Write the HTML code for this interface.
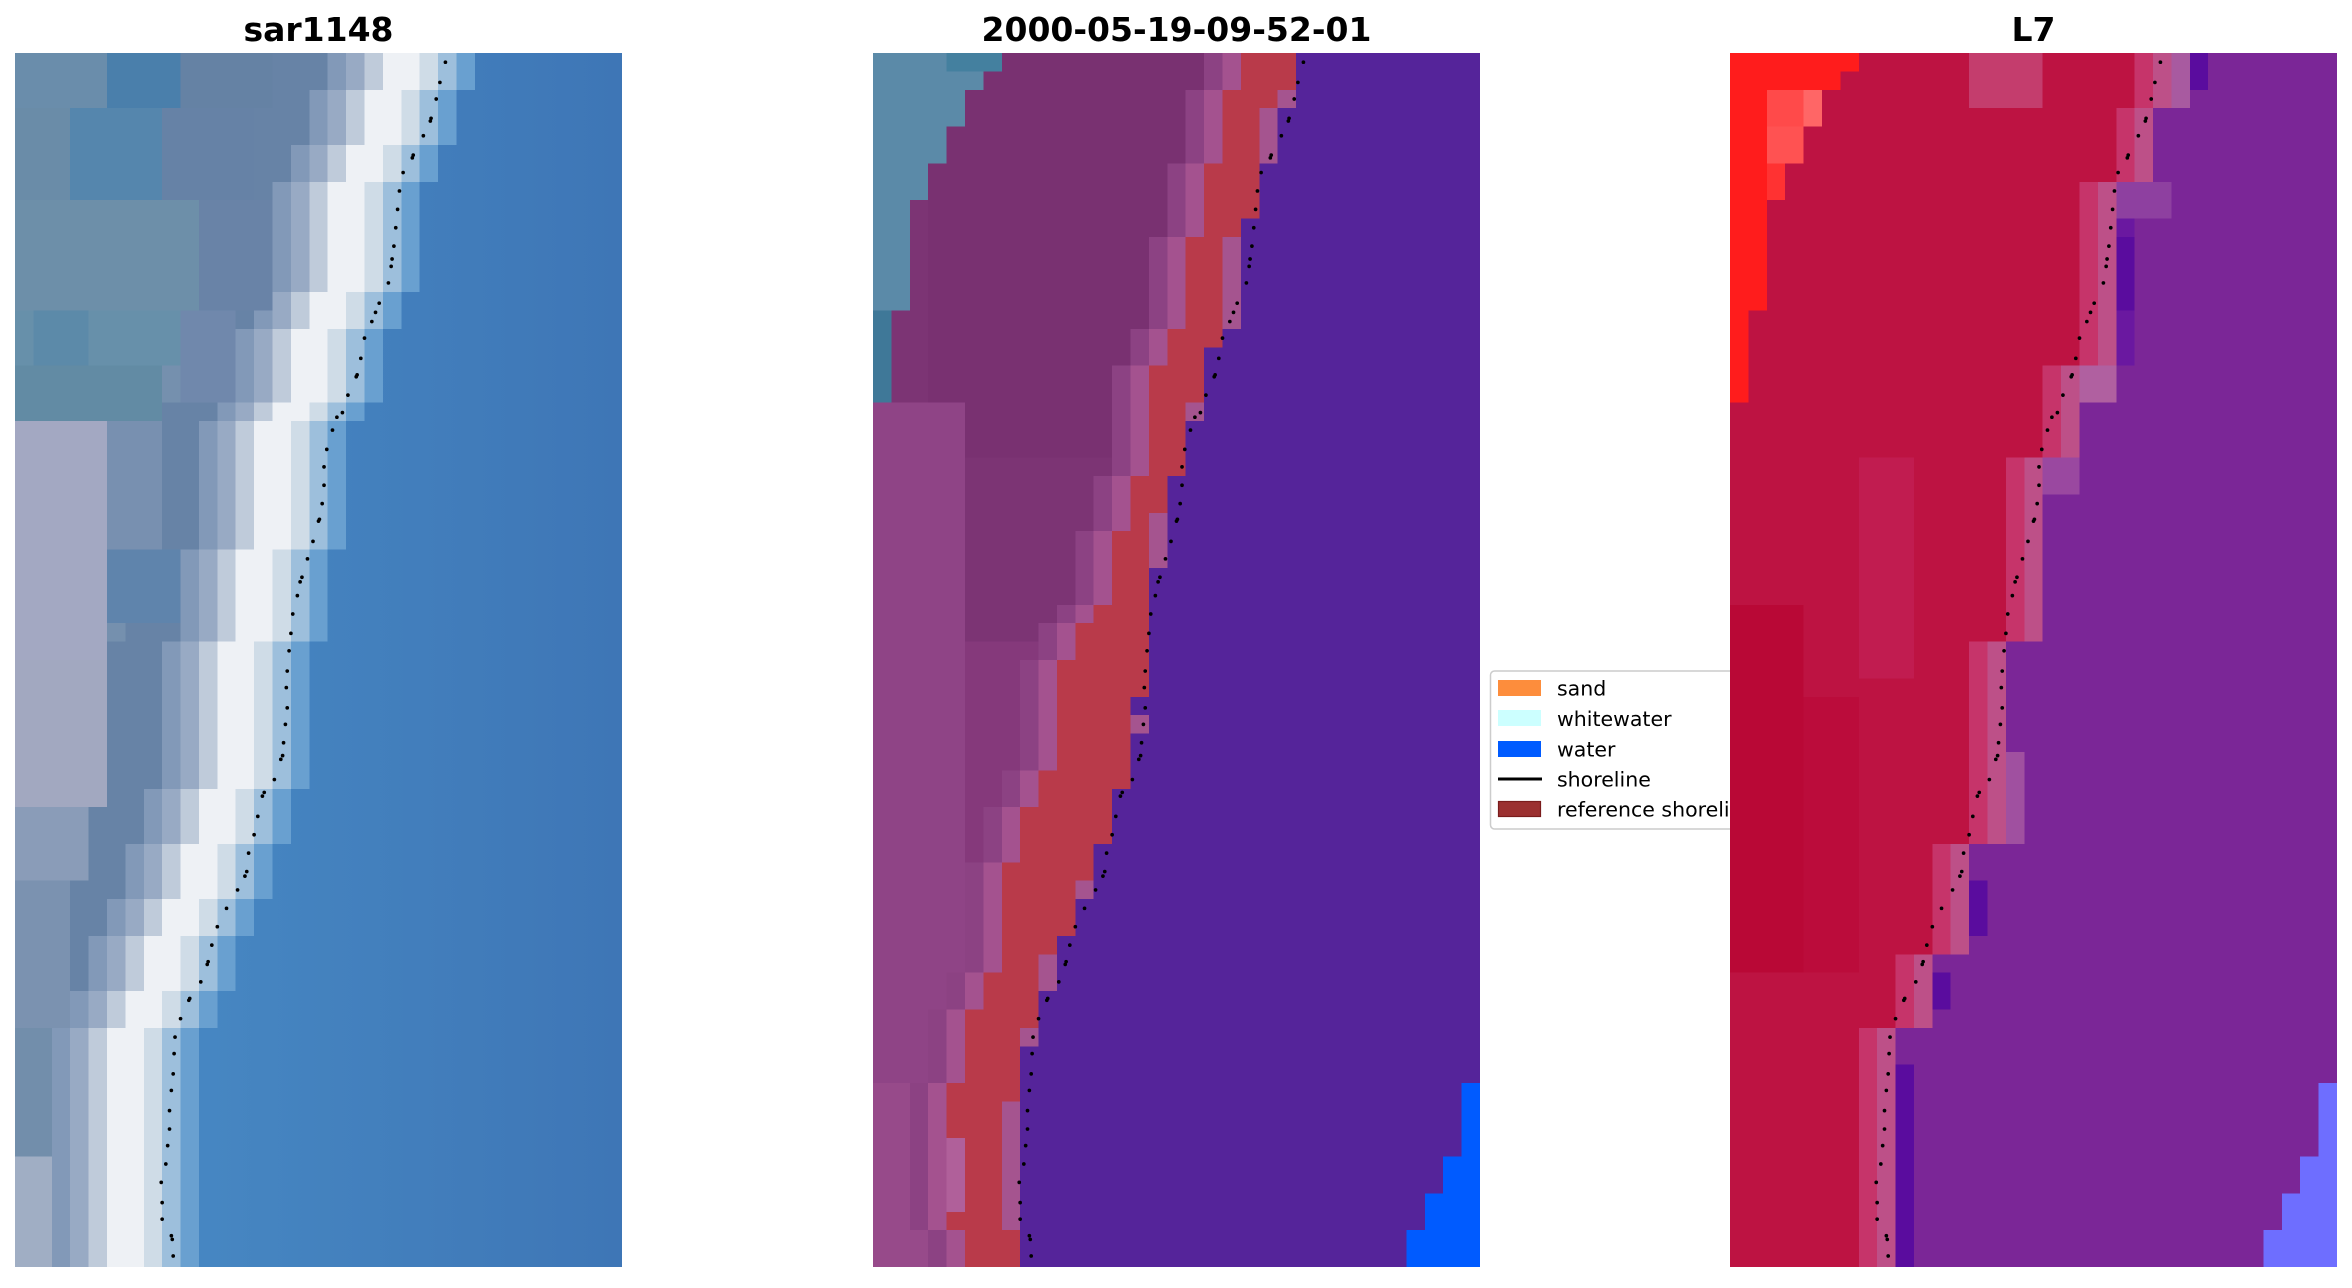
<!DOCTYPE html>
<html><head><meta charset="utf-8"><style>
html,body{margin:0;padding:0;background:#fff;}
body{width:2352px;height:1283px;overflow:hidden;}
svg text{font-family:"DejaVu Sans","Liberation Sans",sans-serif;}
</style></head><body>
<svg xmlns="http://www.w3.org/2000/svg" width="2352" height="1283" viewBox="0 0 2352 1283">
<defs>
<path id="s1" d="M23,0 V2 H22 V5 H21 V7 H20 V13 H19 V15 H18 V19 H17 V20 H16 V27 H15 V32 H14 V40 H13 V43 H12 V46 H11 V48 H10 V51 H9 V53 H8 V66 H45 V0 Z"/>
<path id="sB" d="M23,0 V3 H22 V6 H21 V9 H20 V14 H19 V16 H18 V20 H17 V23 H16 V28 H15 V35 H14 V40 H13 V43 H12 V45 H11 V48 H10 V51 H9 V54 H8 V66 H45 V0 Z"/>
<path id="sL" d="M20,0 V2 H19 V6 H18 V10 H17 V15 H16 V17 H15 V23 H14 V26 H13 V30 H12 V31 H11 V33 H10 V39 H9 V41 H8 V44 H7 V50 H6 V52 H5 V56 H4 V64 H5 V66 H45 V0 Z"/>
<path id="sP" d="M24,0 V3 H23 V7 H21 V17 H19 V22 H17 V32 H15 V43 H13 V49 H11 V53 H9 V66 H45 V0 Z"/>
<path id="tl" d="M0,0 H7 V1 H6 V2 H5 V4 H4 V6 H3 V8 H2 V14 H1 V19 H0 Z"/>
<path id="br" d="M32,56 H33 V66 H29 V64 H30 V62 H31 V60 H32 Z"/>
<linearGradient id="g1" gradientUnits="userSpaceOnUse" x1="6" y1="0" x2="31" y2="0">
<stop offset="0" stop-color="#4788c3"/><stop offset="1" stop-color="#3e76b6"/>
</linearGradient>
<g id="dots" fill="#000">
<circle cx="23.4" cy="0.5" r=".1"/><circle cx="23.1" cy="1.6" r=".1"/><circle cx="22.9" cy="2.5" r=".1"/><circle cx="22.62" cy="3.55" r=".1"/><circle cx="22.58" cy="3.7" r=".1"/><circle cx="22.2" cy="4.5" r=".1"/><circle cx="21.65" cy="5.55" r=".1"/><circle cx="21.6" cy="5.7" r=".1"/><circle cx="21.1" cy="6.5" r=".1"/><circle cx="20.9" cy="7.5" r=".1"/><circle cx="20.8" cy="8.5" r=".1"/><circle cx="20.7" cy="9.5" r=".1"/><circle cx="20.6" cy="10.5" r=".1"/><circle cx="20.5" cy="11.2" r=".1"/><circle cx="20.45" cy="11.6" r=".1"/><circle cx="20.3" cy="12.5" r=".1"/><circle cx="19.8" cy="13.6" r=".1"/><circle cx="19.6" cy="14.1" r=".1"/><circle cx="19.4" cy="14.6" r=".1"/><circle cx="19.0" cy="15.5" r=".1"/><circle cx="18.8" cy="16.6" r=".1"/><circle cx="18.6" cy="17.5" r=".1"/><circle cx="18.55" cy="17.6" r=".1"/><circle cx="18.1" cy="18.6" r=".1"/><circle cx="17.8" cy="19.55" r=".1"/><circle cx="17.5" cy="19.8" r=".1"/><circle cx="17.26" cy="20.5" r=".1"/><circle cx="16.95" cy="21.55" r=".1"/><circle cx="16.8" cy="22.5" r=".1"/><circle cx="16.8" cy="23.5" r=".1"/><circle cx="16.7" cy="24.5" r=".1"/><circle cx="16.55" cy="25.35" r=".1"/><circle cx="16.5" cy="25.45" r=".1"/><circle cx="16.2" cy="26.55" r=".1"/><circle cx="15.9" cy="27.5" r=".1"/><circle cx="15.6" cy="28.5" r=".1"/><circle cx="15.5" cy="28.75" r=".1"/><circle cx="15.35" cy="29.5" r=".1"/><circle cx="15.1" cy="30.5" r=".1"/><circle cx="15.0" cy="31.55" r=".1"/><circle cx="14.9" cy="32.5" r=".1"/><circle cx="14.8" cy="33.6" r=".1"/><circle cx="14.75" cy="34.5" r=".1"/><circle cx="14.8" cy="35.6" r=".1"/><circle cx="14.7" cy="36.5" r=".1"/><circle cx="14.6" cy="37.5" r=".1"/><circle cx="14.55" cy="38.2" r=".1"/><circle cx="14.45" cy="38.4" r=".1"/><circle cx="14.1" cy="39.5" r=".1"/><circle cx="13.55" cy="40.2" r=".1"/><circle cx="13.45" cy="40.4" r=".1"/><circle cx="13.2" cy="41.5" r=".1"/><circle cx="13.0" cy="42.5" r=".1"/><circle cx="12.7" cy="43.5" r=".1"/><circle cx="12.6" cy="44.5" r=".1"/><circle cx="12.5" cy="44.75" r=".1"/><circle cx="12.1" cy="45.5" r=".1"/><circle cx="11.5" cy="46.5" r=".1"/><circle cx="11.0" cy="47.5" r=".1"/><circle cx="10.7" cy="48.5" r=".1"/><circle cx="10.5" cy="49.4" r=".1"/><circle cx="10.45" cy="49.55" r=".1"/><circle cx="10.1" cy="50.5" r=".1"/><circle cx="9.5" cy="51.4" r=".1"/><circle cx="9.45" cy="51.5" r=".1"/><circle cx="9.0" cy="52.5" r=".1"/><circle cx="8.7" cy="53.5" r=".1"/><circle cx="8.65" cy="54.4" r=".1"/><circle cx="8.6" cy="55.5" r=".1"/><circle cx="8.5" cy="56.4" r=".1"/><circle cx="8.4" cy="57.5" r=".1"/><circle cx="8.4" cy="58.5" r=".1"/><circle cx="8.3" cy="59.4" r=".1"/><circle cx="8.2" cy="60.4" r=".1"/><circle cx="7.95" cy="61.4" r=".1"/><circle cx="8.0" cy="62.5" r=".1"/><circle cx="8.0" cy="63.4" r=".1"/><circle cx="8.5" cy="64.3" r=".1"/><circle cx="8.55" cy="64.5" r=".1"/><circle cx="8.6" cy="65.4" r=".1"/>
</g>
</defs>

<rect width="2352" height="1283" fill="#fff"/>

<!-- Titles -->
<text x="318.5" y="41" text-anchor="middle" font-size="33" font-weight="bold" fill="#000">sar1148</text>
<text x="1176.5" y="41" text-anchor="middle" font-size="33" font-weight="bold" fill="#000">2000-05-19-09-52-01</text>
<text x="2033.5" y="41" text-anchor="middle" font-size="33" font-weight="bold" fill="#000">L7</text>

<!-- Panel 1 -->
<svg x="15" y="53" width="607" height="1214" viewBox="0 0 33 66" preserveAspectRatio="none" shape-rendering="crispEdges">
<rect width="33" height="66" fill="#7590ae"/>
<use href="#s1" transform="translate(-9,0)" fill="#6783a6"/>
<use href="#s1" transform="translate(-6,0)" fill="#8299b8"/>
<rect x="0" y="0" width="5" height="3" fill="#6a8dab"/>
<rect x="5" y="0" width="4" height="3" fill="#4a7fab"/>
<rect x="9" y="0" width="5" height="3" fill="#6582a4"/>
<rect x="0" y="3" width="3" height="5" fill="#6a8ca8"/>
<rect x="3" y="3" width="5" height="5" fill="#5586ad"/>
<rect x="8" y="3" width="5" height="5" fill="#6682a6"/>
<rect x="0" y="8" width="10" height="6" fill="#6d8fa9"/>
<rect x="10" y="8" width="4" height="6" fill="#6983a7"/>
<rect x="0" y="14" width="9" height="3" fill="#6790aa"/>
<rect x="1" y="14" width="3" height="3" fill="#5c8aa9"/>
<rect x="9" y="14" width="3" height="5" fill="#7088ac"/>
<rect x="0" y="17" width="8" height="3" fill="#628ba4"/>
<rect x="0" y="20" width="5" height="13" fill="#a3a8c2"/>
<rect x="5" y="20" width="3" height="7" fill="#7890b0"/>
<rect x="5" y="27" width="4" height="4" fill="#5f84ac"/>
<rect x="0" y="33" width="5" height="8" fill="#a2a8c0"/>
<rect x="0" y="41" width="4" height="4" fill="#8a9cb8"/>
<rect x="0" y="45" width="3" height="8" fill="#7b92b0"/>
<rect x="0" y="53" width="2" height="7" fill="#728eab"/>
<rect x="0" y="60" width="2" height="6" fill="#a0aec4"/>
<use href="#s1" transform="translate(-5,0)" fill="#98aac4"/>
<use href="#s1" transform="translate(-4,0)" fill="#bfcbda"/>
<use href="#s1" transform="translate(-3,0)" fill="#eef1f5"/>
<use href="#s1" transform="translate(-1,0)" fill="#cfdce7"/>
<use href="#s1" fill="#9dbfdc"/>
<use href="#s1" transform="translate(1,0)" fill="#69a0d0"/>
<use href="#s1" transform="translate(2,0)" fill="url(#g1)"/>
<use href="#dots" shape-rendering="auto"/>
</svg>

<!-- Panel 2 -->
<svg x="873" y="53" width="607" height="1214" viewBox="0 0 33 66" preserveAspectRatio="none" shape-rendering="crispEdges">
<rect width="33" height="66" fill="#7c3474"/>
<rect x="3" y="0" width="16" height="22" fill="#793171"/>
<rect x="0" y="19" width="5" height="47" fill="#8f4486"/>
<rect x="5" y="32" width="4" height="34" fill="#85397b"/>
<rect x="0" y="56" width="3" height="10" fill="#974a8a"/>
<use href="#tl" fill="#5b8aa8"/>
<rect x="4" y="0" width="3" height="1" fill="#44809f"/>
<rect x="0" y="14" width="1" height="5" fill="#3f7898"/>
<use href="#sL" transform="translate(-2,0)" fill="#8c4283"/>
<use href="#sL" transform="translate(-1,0)" fill="#a4528f"/>
<use href="#sL" fill="#b93a4a"/>
<use href="#sB" fill="#55249a"/>
<g fill="#a5548f">
<rect x="22" y="2" width="1" height="1"/><rect x="21" y="3" width="1" height="3"/><rect x="19" y="10" width="1" height="5"/><rect x="17" y="19" width="1" height="1"/><rect x="15" y="25" width="1" height="3"/><rect x="14" y="36" width="1" height="1"/><rect x="11" y="45" width="1" height="1"/><rect x="9" y="49" width="1" height="2"/><rect x="8" y="53" width="1" height="1"/><rect x="7" y="57" width="1" height="7"/><rect x="4" y="59" width="1" height="4" fill="#b0609a"/>
</g>
<use href="#br" fill="#005bff"/>
<use href="#dots" shape-rendering="auto"/>
</svg>

<!-- Legend -->
<rect x="1490.5" y="671" width="330" height="158" rx="4" fill="#fff" fill-opacity="0.85" stroke="#cccccc" stroke-width="1.5"/>
<rect x="1498" y="680" width="43" height="16" fill="#fd8d3c"/>
<rect x="1498" y="710" width="43" height="16" fill="#ccffff"/>
<rect x="1498" y="741" width="43" height="16" fill="#005bff"/>
<line x1="1498" y1="779" x2="1542" y2="779" stroke="#000" stroke-width="3"/>
<rect x="1498.5" y="801.5" width="42" height="15" fill="#9b3030" stroke="#7a1c1c" stroke-width="1.2"/>
<g font-size="20.5" fill="#000">
<text x="1557" y="695.5">sand</text>
<text x="1557" y="726">whitewater</text>
<text x="1557" y="756.5">water</text>
<text x="1557" y="786.5">shoreline</text>
<text x="1557" y="816.5">reference shoreline</text>
</g>

<!-- Panel 3 -->
<svg x="1730" y="53" width="607" height="1214" viewBox="0 0 33 66" preserveAspectRatio="none" shape-rendering="crispEdges">
<rect width="33" height="66" fill="#bd1342"/>
<rect x="13" y="0" width="4" height="3" fill="#c43d6d"/>
<rect x="7" y="22" width="3" height="12" fill="#c11c50"/>
<rect x="0" y="30" width="4" height="20" fill="#b90836"/>
<rect x="4" y="35" width="3" height="15" fill="#bb0c3b"/>
<use href="#tl" fill="#ff1c1c"/>
<rect x="2" y="2" width="2" height="2" fill="#ff4a4a"/>
<rect x="4" y="2" width="1" height="2" fill="#ff6666"/>
<rect x="2" y="4" width="2" height="2" fill="#ff5252"/>
<rect x="2" y="6" width="1" height="2" fill="#ff3232"/>
<use href="#sP" transform="translate(-2,0)" fill="#c6346a"/>
<use href="#sP" transform="translate(-1,0)" fill="#bd5088"/>
<use href="#sP" fill="#7b2697"/>
<rect x="24" y="0" width="1" height="3" fill="#a85aa0"/>
<rect x="21" y="7" width="3" height="2" fill="#8e40a0"/>
<rect x="19" y="17" width="2" height="2" fill="#b060a0"/>
<rect x="17" y="22" width="2" height="2" fill="#9a48a0"/>
<rect x="15" y="38" width="1" height="5" fill="#a050a0"/>
<g fill="#5a0c9e">
<rect x="25" y="0" width="1" height="2"/><rect x="21" y="10" width="1" height="4"/><rect x="13" y="45" width="1" height="3"/><rect x="11" y="50" width="1" height="2"/><rect x="9" y="55" width="1" height="11"/>
</g>
<rect x="21" y="9" width="1" height="1" fill="#6a18a0"/>
<rect x="21" y="14" width="1" height="3" fill="#6a18a0"/>
<use href="#br" fill="#6e6eff"/>
<use href="#dots" shape-rendering="auto"/>
</svg>
</svg>
</body></html>
